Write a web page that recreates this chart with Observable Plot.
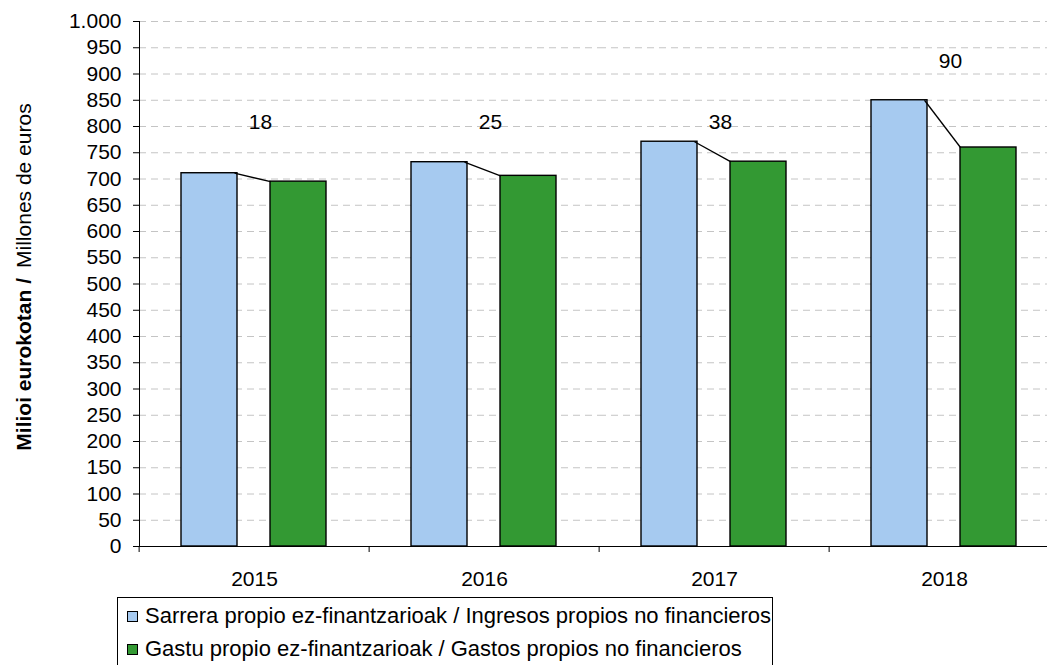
<!DOCTYPE html>
<html><head><meta charset="utf-8">
<script src="https://cdn.jsdelivr.net/npm/d3@7"></script>
<script src="https://cdn.jsdelivr.net/npm/@observablehq/plot@0.6"></script>
<style>
body{margin:0;background:#fff;font-family:"Liberation Sans",Arial,sans-serif;}
#wrap{position:relative;width:1047px;height:665px;overflow:hidden;}
.legend{position:absolute;left:117px;top:597px;width:656px;height:80px;border:1px solid #000;box-sizing:border-box;background:#fff}
.item{position:absolute;left:9px;height:24px;line-height:24px;display:flex;align-items:center;font-size:22px;white-space:nowrap;color:#000}
.sw{width:11px;height:11px;border:1px solid #000;box-sizing:border-box;margin-right:7px;flex:none}
</style></head><body><div id="wrap"></div>
<script>
// ---- data ----
const years = ["2015", "2016", "2017", "2018"];
const ingresos = [711, 732, 771, 850];   // Sarrera propio ez-finantzarioak
const gastos = [695, 706, 733, 760];     // Gastu propio ez-finantzarioak
const diffLabels = ["18", "25", "38", "90"];
const labelLevels = [808, 808, 808, 925]; // value level where each label sits
const seriesKeys = ["ingresos", "gastos"];
const seriesNames = [
  "Sarrera propio ez-finantzarioak / Ingresos propios no financieros",
  "Gastu propio ez-finantzarioak / Gastos propios no financieros"
];
const seriesColors = ["#A6CAF0", "#339933"];
const yTicks = d3.range(0, 1001, 50);
const yTitleBold = "Milioi eurokotan /";
const yTitleRegular = "Millones de euros";

// ---- tables built from the arrays ----
const bars = years.flatMap((year, i) => [
  {year, series: seriesKeys[0], value: ingresos[i]},
  {year, series: seriesKeys[1], value: gastos[i]}
]);
const pairs = years.map((year, i) => ({year, a: ingresos[i], b: gastos[i], label: diffLabels[i], at: labelLevels[i]}));

const W = 1047, H = 597, mL = 137, mR = -13, mT = 21, mB = 51;
const fxBand = (W - mL - mR) / years.length;
const fmt = d3.formatLocale({decimal: ",", thousands: ".", grouping: [3], currency: ["", "€"]}).format(",");
const font = '"Liberation Sans", Arial, sans-serif';

const chart = Plot.plot({
  width: W, height: H,
  marginLeft: mL, marginRight: mR, marginTop: mT, marginBottom: mB,
  style: {fontFamily: font, fontSize: "21px", color: "#000", background: "#fff", overflow: "visible"},
  fx: {domain: years, padding: 0},
  x: {domain: seriesKeys, paddingInner: 0.367, paddingOuter: 0.466, axis: null},
  y: {domain: [0, 1000]},
  color: {domain: seriesKeys, range: seriesColors},
  marks: [
    Plot.gridY(yTicks, {stroke: "#c4c4c4", strokeOpacity: 1, strokeWidth: 1, strokeDasharray: "7,5"}),
    Plot.barY(bars, {fx: "year", x: "series", y: "value", fill: "series", stroke: "#000", strokeWidth: 1.4}),
    Plot.link(pairs, {
      fx: "year", x1: () => seriesKeys[0], x2: () => seriesKeys[1], y1: "a", y2: "b",
      stroke: "#000", strokeWidth: 1.3,
      render(index, scales, values, dimensions, context, next) {
        const sx = scales.x;
        const step = sx(seriesKeys[1]) - sx(seriesKeys[0]);
        let bw = typeof sx.bandwidth === "function" ? sx.bandwidth() : sx.bandwidth;
        if (!(bw > 0)) bw = step * (1 - 0.367);
        // the link mark shifts band positions by half a band; undo that so the
        // leader runs from the top-right of the first bar to the top-left of the second
        const n = values.y1.length;
        const x1 = new Float64Array(n).fill(sx(seriesKeys[0]) + bw / 2 - 3);
        const x2 = new Float64Array(n).fill(sx(seriesKeys[1]) - bw / 2);
        return next(index, scales, {...values, x1, x2}, dimensions, context);
      }
    }),
    Plot.text(pairs, {fx: "year", y: "at", text: "label", fontSize: 21, fill: "#000", dx: 6}),
    Plot.ruleY([0], {stroke: "#000", strokeWidth: 1}),
    Plot.frame({anchor: "left", facetAnchor: "left", stroke: "#000"}),
    Plot.axisY(yTicks, {tickSize: 6, tickPadding: 12, tickFormat: fmt, fontSize: 21, label: null, stroke: "#000"}),
    Plot.axisFx({anchor: "bottom", tickSize: 6, tickFormat: () => "", dx: -fxBand / 2, label: null, stroke: "#000"}),
    Plot.axisFx({anchor: "bottom", tickSize: 0, tickPadding: 25, fontSize: 21, label: null})
  ]
});

const wrap = document.getElementById("wrap");
wrap.appendChild(chart);

// y-axis title (bold + regular parts)
const t = d3.select(chart).append("text")
  .attr("transform", "translate(31,277) rotate(-90)")
  .attr("text-anchor", "middle")
  .attr("font-family", font)
  .attr("font-size", 21)
  .attr("fill", "#000");
t.append("tspan").attr("font-weight", "bold").text(yTitleBold);
t.append("tspan").attr("dx", 10).text(yTitleRegular);

// legend below the SVG
const legend = document.createElement("div");
legend.className = "legend";
seriesNames.forEach((name, i) => {
  const item = document.createElement("div");
  item.className = "item";
  item.style.top = (6 + i * 33) + "px";
  const sw = document.createElement("span");
  sw.className = "sw";
  sw.style.background = seriesColors[i];
  const label = document.createElement("span");
  label.textContent = name;
  item.appendChild(sw); item.appendChild(label);
  legend.appendChild(item);
});
wrap.appendChild(legend);
</script>
</body></html>
